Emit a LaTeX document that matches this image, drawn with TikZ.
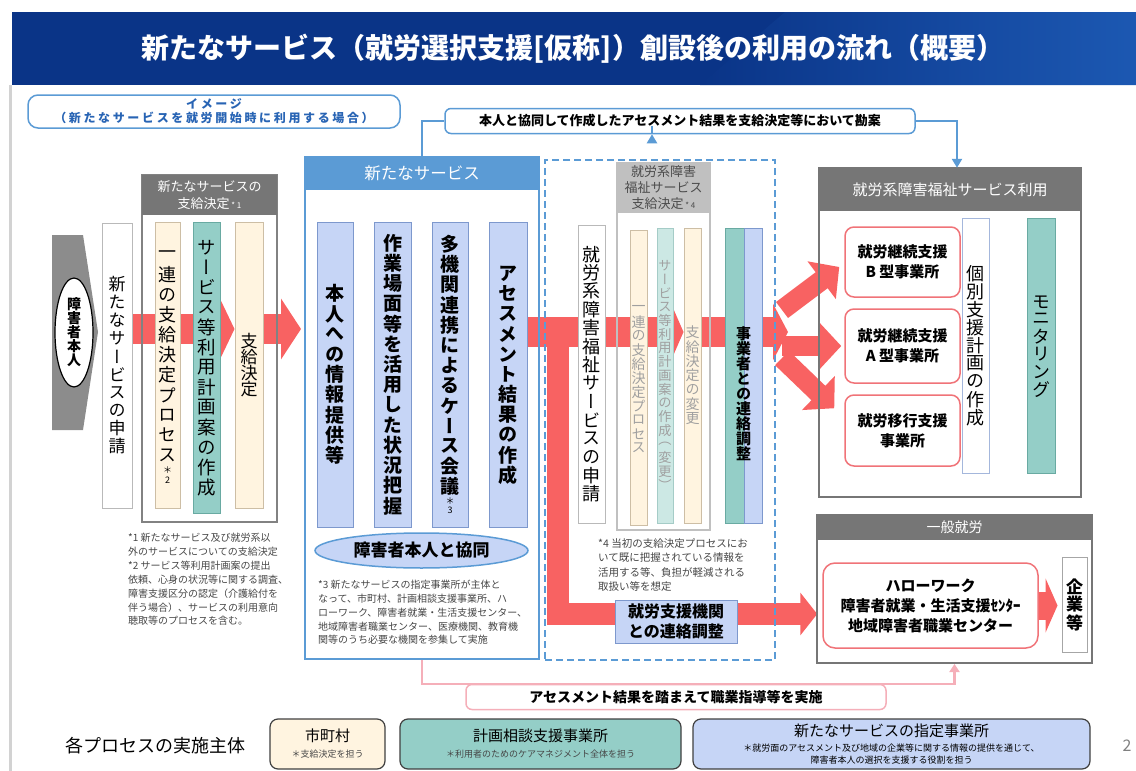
\documentclass[tikz,border=0pt]{standalone}
\usepackage{fontspec}
\setmainfont{Noto Sans CJK JP}
\newfontfamily\vjp[RawFeature=+vert]{Noto Sans CJK JP}
\usetikzlibrary{positioning, shapes.geometric, arrows.meta, calc}
\pgfdeclarelayer{bg}
\pgfsetlayers{bg,main}
\definecolor{navy}{RGB}{10,52,135}
\definecolor{navylight}{RGB}{28,88,178}
\definecolor{mainblue}{RGB}{91,155,213}
\definecolor{textblue}{RGB}{40,100,180}
\definecolor{colblue}{RGB}{198,213,246}
\definecolor{colline}{RGB}{125,152,205}
\definecolor{cream}{RGB}{255,244,224}
\definecolor{creamline}{RGB}{205,190,165}
\definecolor{tealfill}{RGB}{148,206,199}
\definecolor{tealline}{RGB}{105,170,162}
\definecolor{tealpale}{RGB}{204,232,228}
\definecolor{bandred}{RGB}{248,98,98}
\definecolor{boxred}{RGB}{240,115,120}
\definecolor{pinkline}{RGB}{245,175,185}
\definecolor{headgray}{RGB}{118,118,118}
\definecolor{headlight}{RGB}{192,192,192}
\definecolor{framegray}{RGB}{130,130,130}
\definecolor{notegray}{RGB}{70,70,70}
\definecolor{fadetext}{RGB}{160,160,160}
\definecolor{arrowgray}{RGB}{140,140,140}

\newcommand\fsz[1]{\fontsize{#1}{#1}\selectfont}
% vertical text: one character per line
\newcommand\vcol[1]{\vbox{\offinterlineskip\vjp#1}}
\newcommand\vt[2]{\def\vtsp{#2}\vtloop#1\relax}
\def\vtloop#1{\ifx\relax#1\else\vbox to\vtsp{\vss\hbox to 1em{\hss#1\hss}\vss}\expandafter\vtloop\fi}

\tikzset{
  cbox/.style={draw=creamline, fill=cream, line width=1pt, inner sep=0pt},
  tbox/.style={draw=tealline, fill=tealfill, line width=1pt, inner sep=0pt},
  bbox/.style={draw=colline, fill=colblue, line width=1pt, inner sep=0pt},
  wbox/.style={draw=gray!55, fill=white, line width=1pt, inner sep=0pt},
  rbox/.style={draw=boxred, fill=white, line width=1.5pt, rounded corners=9pt,
    inner sep=0pt, align=center, font=\bfseries\fontsize{15}{20}\selectfont},
  container/.style={draw=framegray, line width=2pt, inner sep=0pt},
  header/.style={fill=headgray, inner sep=0pt, text=white, align=center},
  note/.style={anchor=north west, inner sep=0pt, align=left, text=notegray,
    font=\fontsize{10}{13.8}\selectfont},
  band/.style={draw=bandred, line width=30pt},
  fanarrow/.style={draw=bandred, line width=20pt, -{Triangle[length=22pt,width=46pt]}},
  blueline/.style={draw=mainblue, line width=2.5pt},
  legendbox/.style={draw=black!75, line width=1.2pt, rounded corners=8pt,
    inner sep=0pt, align=center}
}

\begin{document}
\begin{tikzpicture}[x=1pt,y=-1pt]
\useasboundingbox (0,0) rectangle (1136,771);

% title bar
\fill[navy] (12,12) rectangle (1136,85);
\shade[left color=navy, right color=navylight] (785,12) -- (1136,12) -- (1136,85) -- (700,85) -- cycle;
\node[text=white, font=\bfseries\fsz{28}] (title) at (573,49) {新たなサービス（就労選択支援[仮称]）創設後の利用の流れ（概要）};
\draw[gray!35, line width=3pt] (10,85) -- (10,771);

\node[draw=mainblue, line width=1.5pt, rounded corners=10pt, minimum width=372pt, minimum height=33pt,
  align=center, text=textblue, inner sep=0pt,
  font=\bfseries\fontsize{12}{14}\selectfont\addfontfeatures{LetterSpace=22}] (image) at (214,111.5)
  {イメージ\\（新たなサービスを就労開始時に利用する場合）};

\node[draw=mainblue, line width=1.5pt, rounded corners=6pt, fill=white, minimum width=470pt,
  minimum height=25pt, inner sep=0pt, font=\bfseries\fsz{13}] (kanan) at (680,121)
  {本人と協同して作成したアセスメント結果を支給決定等において勘案};

% person and application
\fill[arrowgray] (52,235) -- (83,235) -- (98,332) -- (83,430) -- (52,430) -- cycle;
\node[ellipse, draw=black, line width=1.2pt, fill=white, minimum width=38pt, minimum height=109pt,
  inner sep=0pt, font=\bfseries\fsz{14}] (person) at (74,332.5) {\vcol{\vt{障害者本人}{14pt}}};
\node[wbox, minimum width=30pt, minimum height=285pt, font=\fsz{17}] (apply) at (117,365.5)
  {\vcol{\vt{新たなサービスの申請}{18pt}}};

% first decision
\node[container, minimum width=135pt, minimum height=347pt] (kettei1) at (209.5,348.5) {};
\node[header, minimum width=135pt, minimum height=40pt, font=\fontsize{13}{17}\selectfont] (kettei1head)
  at (209.5,195) {新たなサービスの\\支給決定{\fsz{8} * 1}};
\node[cbox, minimum width=25pt, minimum height=286pt, font=\fsz{18}] (ichiren) at (167.5,365)
  {\vcol{\vt{一連の支給決定プロセス}{20pt}\vt{{\fsz{9}＊}{\fsz{9}2}}{10pt}}};
\node[tbox, minimum width=27pt, minimum height=291pt, font=\fsz{18.5}] (plan) at (206.5,367.5)
  {\vcol{\vt{サービス等利用計画案の作成}{20pt}}};
\node[cbox, minimum width=28pt, minimum height=286pt, font=\fsz{17}] (shikyu) at (249,365)
  {\vcol{\vt{支給決定}{16pt}}};

\node[note] (note1) at (128,533) {*1 新たなサービス及び就労系以\\外のサービスについての支給決定};
\node[note] (note2) at (128,561) {*2 サービス等利用計画案の提出\\依頼、心身の状況等に関する調査、\\障害支援区分の認定（介護給付を\\伴う場合）、サービスの利用意向\\聴取等のプロセスを含む。};

% new service
\node[draw=mainblue, line width=2pt, minimum width=234pt, minimum height=502pt] (svcbox) at (422,408) {};
\node[fill=mainblue, minimum width=234pt, minimum height=33pt, inner sep=0pt, text=white,
  font=\fsz{16.5}] (svchead) at (422,173.5) {新たなサービス};
\node[bbox, minimum width=36pt, minimum height=305pt, font=\bfseries\fsz{19}] (col1) at (335,374.5)
  {\vcol{\vt{本人への情報提供等}{20.2pt}}};
\node[bbox, minimum width=37pt, minimum height=305pt, font=\bfseries\fsz{19}] (col2) at (392.5,374.5)
  {\vcol{\vt{作業場面等を活用した状況把握}{20.2pt}}};
\node[bbox, minimum width=36pt, minimum height=305pt, font=\bfseries\fsz{19}] (col3) at (450,374.5)
  {\vcol{\vt{多機関連携によるケース会議}{20.2pt}\vt{{\mdseries\fsz{9}＊}{\mdseries\fsz{9}3}}{9pt}}};
\node[bbox, minimum width=38pt, minimum height=305pt, font=\bfseries\fsz{19}] (col4) at (508,374.5)
  {\vcol{\vt{アセスメント結果の作成}{20.2pt}}};
\node[ellipse, draw=mainblue, line width=1.5pt, fill=colblue, minimum width=213pt, minimum height=35pt,
  inner sep=0pt, font=\bfseries\fsz{17}] (kyodo) at (421.5,550.5) {障害者本人と協同};
\node[note] (note3) at (318,580) {*3 新たなサービスの指定事業所が主体と\\なって、市町村、計画相談支援事業所、ハ\\ローワーク、障害者就業・生活支援センター、\\地域障害者職業センター、医療機関、教育機\\関等のうち必要な機関を参集して実施};

% welfare service decision (dashed)
\node[draw=mainblue, dash pattern=on 7pt off 4pt, line width=2pt, minimum width=230pt,
  minimum height=500pt] (dashbox) at (660,410) {};
\node[wbox, minimum width=27pt, minimum height=298pt, font=\fsz{18}] (wapply) at (591.5,374)
  {\vcol{\vt{就労系障害福祉サービスの申請}{18.4pt}}};
\node[draw=headlight, line width=1.5pt, minimum width=93pt, minimum height=367pt, inner sep=0pt]
  (kettei2) at (663.5,346.5) {};
\node[fill=headlight, minimum width=93pt, minimum height=50pt, inner sep=0pt, align=center,
  text=black!70, font=\fontsize{13}{16}\selectfont] (kettei2head) at (663.5,188)
  {就労系障害\\福祉サービス\\支給決定{\fsz{8} * 4}};
\node[cbox, minimum width=17pt, minimum height=295pt, text=fadetext, font=\fsz{14}] (ichiren2)
  at (638.5,378) {\vcol{\vt{一連の支給決定プロセス}{14pt}}};
\node[tbox, draw=tealline!60, fill=tealpale, minimum width=16pt, minimum height=295pt, text=fadetext,
  font=\fsz{13.2}] (plan2) at (665,375.5) {\vcol{\vt{サービス等利用計画案の作成（変更）}{13.7pt}}};
\node[cbox, minimum width=17pt, minimum height=295pt, text=fadetext, font=\fsz{14}] (henko)
  at (692.5,375.5) {\vcol{\vt{支給決定の変更}{14.3pt}}};
\node[tbox, minimum width=19pt, minimum height=295pt] (jteal) at (734.5,375.5) {};
\node[bbox, minimum width=18pt, minimum height=295pt] (jblue) at (753,375.5) {};
\node[inner sep=0pt, font=\bfseries\fsz{15}] (jtext) at (743.5,394)
  {\vcol{\vt{事業者との連絡調整}{15pt}}};
\node[note, font=\fontsize{10.5}{14.5}\selectfont] (note4) at (598,538)
  {*4 当初の支給決定プロセスにお\\いて既に把握されている情報を\\活用する等、負担が軽減される\\取扱い等を想定};
\node[bbox, minimum width=122pt, minimum height=43pt, align=center,
  font=\bfseries\fontsize{16}{20}\selectfont] (renraku) at (676,621.5) {就労支援機関\\との連絡調整};

% welfare service use
\node[container, draw=headgray, minimum width=262pt, minimum height=329pt] (usebox) at (950,332.5) {};
\node[header, minimum width=262pt, minimum height=43pt, font=\fsz{15}] (usehead) at (950,189.5)
  {就労系障害福祉サービス利用};
\node[rbox, minimum width=115pt, minimum height=70pt] (typeB) at (902.5,262) {就労継続支援\\B 型事業所};
\node[rbox, minimum width=115pt, minimum height=74pt] (typeA) at (902.5,346) {就労継続支援\\A 型事業所};
\node[rbox, minimum width=115pt, minimum height=71pt] (iko) at (902.5,430.5) {就労移行支援\\事業所};
\node[wbox, draw=colline!70, minimum width=27pt, minimum height=255pt, font=\fsz{18}] (kobetsu)
  at (975.5,345.5) {\vcol{\vt{個別支援計画の作成}{18pt}}};
\node[tbox, minimum width=28pt, minimum height=255pt, font=\fsz{18}] (monitor) at (1041,345.5)
  {\vcol{\vt{モニタリング}{17.5pt}}};

% general employment
\node[container, draw=headgray, minimum width=275pt, minimum height=148pt] (genbox) at (954.5,589) {};
\node[header, minimum width=275pt, minimum height=25pt, font=\fsz{14}] (genhead) at (954.5,527.5) {一般就労};
\node[rbox, minimum width=215pt, minimum height=85pt, rounded corners=12pt] (hello) at (930.5,605.5)
  {ハローワーク\\障害者就業・生活支援ｾﾝﾀｰ\\地域障害者職業センター};
\node[wbox, draw=gray!70, minimum width=25pt, minimum height=95pt, font=\bfseries\fsz{17}] (kigyo)
  at (1074.5,604.5) {\vcol{\vt{企業等}{18pt}}};

\node[draw=pinkline, line width=1.5pt, fill=white, rounded corners=6pt, minimum width=420pt,
  minimum height=25pt, inner sep=0pt, font=\bfseries\fsz{14}] (jisshi) at (676,697)
  {アセスメント結果を踏まえて職業指導等を実施};

% legend
\node[font=\fsz{18}] (legend) at (155,746) {各プロセスの実施主体};
\node[legendbox, fill=cream, minimum width=115pt, minimum height=50pt,
  font=\fontsize{9}{12}\selectfont] (shichoson) at (327.5,744)
  {{\fsz{15}市町村}\\[4pt]{\color{notegray}＊支給決定を担う}};
\node[legendbox, fill=tealfill, minimum width=281pt, minimum height=50pt,
  font=\fontsize{9}{12}\selectfont] (keikaku) at (540.5,744)
  {{\fsz{15}計画相談支援事業所}\\[4pt]{\color{notegray}＊利用者のためのケアマネジメント全体を担う}};
\node[legendbox, fill=colblue, minimum width=397pt, minimum height=50pt,
  font=\fontsize{9}{12}\selectfont] (shitei) at (891.5,744)
  {{\fsz{15}新たなサービスの指定事業所}\\[3pt]＊就労面のアセスメント及び地域の企業等に関する情報の提供を通じて、\\障害者本人の選択を支援する役割を担う};
\node[text=gray, font=\fsz{16}] (pageno) at (1127,746) {2};

% connectors
\draw[blueline] (svchead.north) |- (kanan.west);
\draw[blueline, -{Triangle[length=9pt,width=10pt]}] (kanan.east) -| ($(usehead.north)+(7,0)$);
\draw[blueline, -{Triangle[length=9pt,width=10pt]}] ($(kanan.south)+(-28,0)$) -- ($(kanan.south -| dashbox.north)+(-8,0)$);

\begin{pgfonlayer}{bg}
\coordinate (lvlA) at (0,329);
\coordinate (lvlB) at (0,332);
\coordinate (lvlC) at (0,614);
\coordinate (lvlD) at (0,684);
\coordinate (fan) at (788,332);
\coordinate (drop) at (558,332);
\draw[band, -{Triangle[length=14pt,width=58pt]}] (apply.east |- lvlA) -- (shikyu.west |- lvlA);
\draw[band, -{Triangle[length=20pt,width=60pt]}] (shikyu.east |- lvlA) -- ($(svcbox.west |- lvlA)+(-3,0)$);
\draw[band, -{Triangle[length=11pt,width=50pt]}] (col4.east |- lvlB) -- (henko.west |- lvlB);
\draw[band, -{Triangle[length=15pt,width=56pt]}] (henko.east |- lvlB) -- (fan);
\draw[fanarrow] ($(fan)+(-6,-22)$) -- ($(typeB.west)+(-5,5)$);
\draw[fanarrow] ($(fan |- typeA.west)+(-6,0)$) -- ($(typeA.west)+(-3,0)$);
\draw[fanarrow] ($(fan)+(-6,26)$) -- ($(iko.north west)+(-10,14)$);
\draw[band, line width=22pt, line join=miter, -{Triangle[length=17pt,width=42pt]}]
  (drop) |- ($(hello.west |- lvlC)+(-5,0)$);
\draw[band, line width=28pt, -{Triangle[length=12pt,width=54pt]}] (hello.east) -- ($(hello.east -| kigyo.west)+(-4,0)$);
\draw[draw=pinkline, line width=2.5pt, -{Triangle[length=8pt,width=10pt]}]
  (svcbox.south) -- (svcbox.south |- lvlD) -| (genbox.south);
\end{pgfonlayer}

\end{tikzpicture}
\end{document}
